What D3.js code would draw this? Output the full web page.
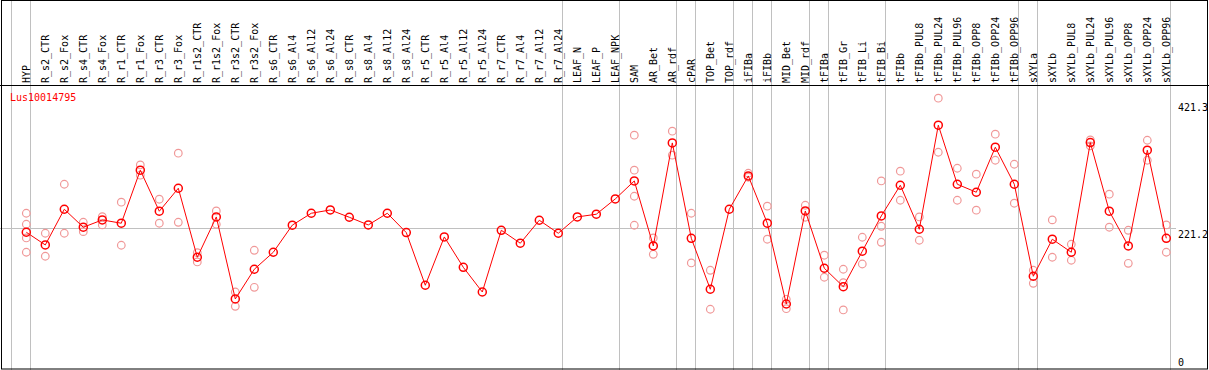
<!DOCTYPE html>
<html>
<head>
<meta charset="utf-8">
<script src="https://cdn.jsdelivr.net/npm/d3@7"></script>
<style>
  body { margin: 0; background: #fff; }
  text { font-family: "DejaVu Sans Mono", monospace; font-size: 10px; }
</style>
</head>
<body>
<div class="chart"></div>
<script>
var geneName = "Lus10014795";

var samples = ["HYP","R_s2_CTR","R_s2_Fox","R_s4_CTR","R_s4_Fox","R_r1_CTR","R_r1_Fox","R_r3_CTR","R_r3_Fox",
  "R_r1s2_CTR","R_r1s2_Fox","R_r3s2_CTR","R_r3s2_Fox","R_s6_CTR","R_s6_Al4","R_s6_Al12","R_s6_Al24",
  "R_s8_CTR","R_s8_Al4","R_s8_Al12","R_s8_Al24","R_r5_CTR","R_r5_Al4","R_r5_Al12","R_r5_Al24",
  "R_r7_CTR","R_r7_Al4","R_r7_Al12","R_r7_Al24","LEAF_N","LEAF_P","LEAF_NPK","SAM","AR_Bet","AR_rdf",
  "cPAR","TOP_Bet","TOP_rdf","iFIBa","iFIBb","MID_Bet","MID_rdf","tFIBa","tFIB_Gr","tFIB_Li","tFIB_Bi",
  "tFIBb","tFIBb_PUL8","tFIBb_PUL24","tFIBb_PUL96","tFIBb_OPP8","tFIBb_OPP24","tFIBb_OPP96",
  "sXYLa","sXYLb","sXYLb_PUL8","sXYLb_PUL24","sXYLb_PUL96","sXYLb_OPP8","sXYLb_OPP24","sXYLb_OPP96"];

// mean expression per sample
var means = [214.6,194.6,250.8,222.5,234.0,228.8,312.3,247.7,283.9,175.2,238.7,109.5,156.3,183.1,225.8,
  244.5,249.7,238.2,226.1,244.5,214.0,131.1,207.2,159.4,120.5,217.7,197.3,233.5,213.0,238.7,243.0,267.1,
  295.4,193.0,355.3,205.1,124.8,250.8,303.3,228.8,101.6,248.1,157.9,128.9,184.7,240.3,288.6,219.3,383.2,
  290.2,277.6,348.5,290.2,145.3,203.6,183.1,355.8,247.7,193.0,343.8,205.1];

// replicate values (only the ones that do not sit on the mean)
var replicates = [
  [244.5,227.2,205.6,183.1],[213.0,176.8],[290.2,213.0],[230.3,215.5],[239.2,226.1],[261.9,194.1],
  [320.6,304.4],[266.6,228.8],[339.1,230.3],[182.4,167.8],[248.1,227.2],[120.5,98.0],[186.2,127.9],
  [],[],[],[],[],[],[],[],[],[],[],[],[],[],[],[],[],[],[],
  [367.4,312.3,271.3,225.6],[205.6,179.9],[373.7,335.9],[244.5,166.2],[154.7,93.3],[],[307.5,301.2],
  [255.6,203.6],[109.0,94.2],[257.1,238.2],[178.4,143.7],[156.3,135.2,92.2],[206.7,164.6],
  [295.4,224.0,198.8],[310.7,265.0],[238.7,202.0],[425.7,340.6],[315.4,265.0],[306.0,249.3],
  [369.0,328.0],[321.7,260.3],[154.7,134.2],[234.0,175.2],[195.7,170.5],[360.0,350.6],[274.5,222.5],
  [217.7,165.7],[359.5,328.0],[226.1,183.1]];

// group separators are drawn right after these sample indices
var separators = [-1, 0, 28, 31, 34, 35, 37, 38, 39, 41, 42, 45, 52, 53, 60];

var axisTicks = [421.3, 221.2, 0];
var refLine = 221.2;

var width = 1209, height = 370;
var headerY = 85;

var svg = d3.select(".chart")
    .append("svg")
    .attr("width", width)
    .attr("height", height);

var x = d3.scaleLinear().domain([0, samples.length - 1]).range([26.3, 1166.3]);
var y = d3.scaleLinear().domain([0, 421.3]).range([368.5, 101]);

// grey separators through header and plot
svg.selectAll(".sep")
  .data(separators)
  .enter()
  .append("line")
  .attr("x1", function(d) { return Math.round(x(d) + 4) + 0.5; })
  .attr("x2", function(d) { return Math.round(x(d) + 4) + 0.5; })
  .attr("y1", 0)
  .attr("y2", height)
  .attr("stroke", "#c0c0c0");

svg.append("line")
  .attr("x1", 0).attr("x2", 1176)
  .attr("y1", Math.round(y(refLine)) + 0.5)
  .attr("y2", Math.round(y(refLine)) + 0.5)
  .attr("stroke", "#c0c0c0");

// sample labels
svg.selectAll(".lab")
  .data(samples)
  .enter()
  .append("text")
  .attr("transform", function(d, i) { return "translate(" + (x(i) + 3.5) + "," + (headerY - 2) + ") rotate(-90)"; })
  .attr("fill", "#000")
  .text(function(d) { return d; });

svg.append("line")
  .attr("x1", 0).attr("x2", width)
  .attr("y1", headerY + 0.5).attr("y2", headerY + 0.5)
  .attr("stroke", "#000");

// replicates
var reps = [];
replicates.forEach(function(arr, i) {
  arr.forEach(function(v) { reps.push({i: i, v: v}); });
});
svg.selectAll(".rep")
  .data(reps)
  .enter()
  .append("circle")
  .attr("cx", function(d) { return x(d.i); })
  .attr("cy", function(d) { return y(d.v); })
  .attr("r", 3.8)
  .attr("fill", "none")
  .attr("stroke", "#f09898")
  .attr("stroke-width", 1.2);

var line = d3.line()
  .x(function(d, i) { return x(i); })
  .y(function(d) { return y(d); });

svg.append("path")
  .datum(means)
  .attr("d", line)
  .attr("fill", "none")
  .attr("stroke", "#ff0000")
  .attr("stroke-width", 1);

svg.selectAll(".mean")
  .data(means)
  .enter()
  .append("circle")
  .attr("cx", function(d, i) { return x(i); })
  .attr("cy", function(d) { return y(d); })
  .attr("r", 4)
  .attr("fill", "none")
  .attr("stroke", "#ff0000")
  .attr("stroke-width", 1.5);

svg.append("text")
  .attr("x", 10)
  .attr("y", 101)
  .attr("fill", "#ff0000")
  .text(geneName);

// right side value labels
svg.selectAll(".tick")
  .data(axisTicks)
  .enter()
  .append("text")
  .attr("x", 1178)
  .attr("y", function(d) { return Math.min(y(d) + 10, 366); })
  .attr("fill", "#000")
  .text(function(d) { return d === 0 ? "0" : d.toFixed(1); });

// frame
svg.append("rect")
  .attr("x", 1.5).attr("y", 0.5)
  .attr("width", 1206).attr("height", 368.5)
  .attr("fill", "none")
  .attr("stroke", "#000");
</script>
</body>
</html>
